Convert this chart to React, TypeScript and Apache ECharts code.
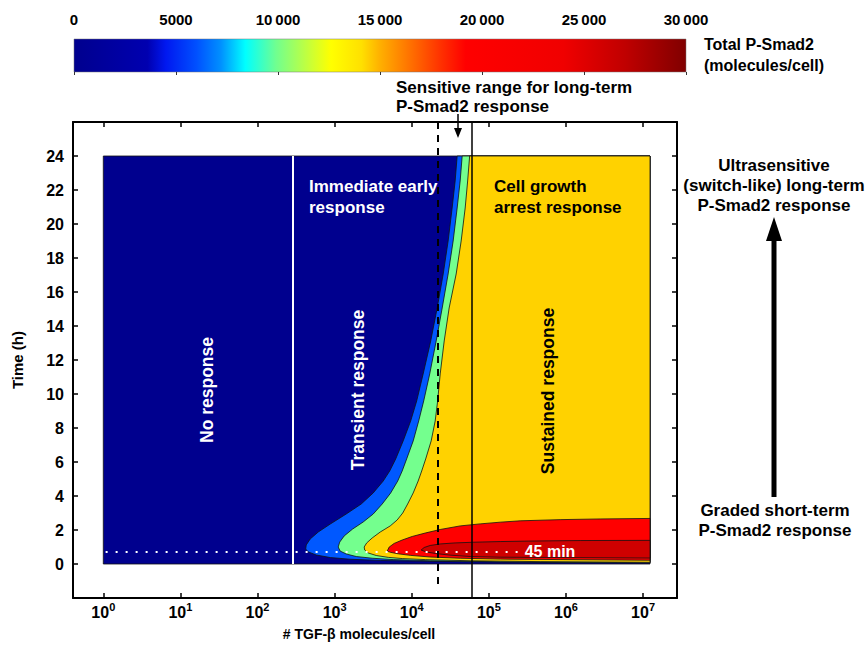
import React, { useEffect, useRef } from "react";
import * as echarts from "echarts";

const FONT = '"Liberation Sans", Arial, Helvetica, sans-serif';

// ---------- data ----------
// x values are log10(# TGF-β molecules/cell); y values are time (h)
const xExponents = [0, 1, 2, 3, 4, 5, 6, 7];
const timeTicks = [0, 2, 4, 6, 8, 10, 12, 14, 16, 18, 20, 22, 24];
const colorbarTicks = [0, 5000, 10000, 15000, 20000, 25000, 30000];
const colorbarRange = [0, 30000];

const noResponseEdgeLog = 2.46; // white line
const sensitiveLowLog = 4.34; // dashed line
const sensitiveHighLog = 4.78; // solid line
const earlyTime = 0.75; // 45 min
const earlyLineEndLog = 5.38;

// contour regions (P-Smad2 above 0 / 5000 / 10000 / 15000 / 20000 / 25000 molecules/cell)
const regionAbove0: number[][] = [[0, 0], [7.09, 0], [7.09, 24], [0, 24]];
const regionAbove5000: number[][] = [
  [4.589, 24], [4.563, 22.53], [4.524, 20.94], [4.472, 19.0], [4.408, 17.06], [4.33, 15.06],
  [4.246, 13.12], [4.148, 11.18], [4.064, 9.59], [3.986, 8.41], [3.889, 7.24], [3.792, 6.18],
  [3.714, 5.47], [3.63, 4.88], [3.5, 4.18], [3.345, 3.53], [3.15, 2.94], [2.943, 2.35],
  [2.787, 1.88], [2.683, 1.47], [2.632, 1.12], [2.625, 0.88], [2.658, 0.71], [2.761, 0.53],
  [2.943, 0.38], [3.202, 0.28], [3.591, 0.21], [4.2, 0.16], [5.406, 0.11], [7.09, 0.06],
  [7.09, 24],
];
const regionAbove10000: number[][] = [
  [4.654, 24], [4.628, 22.53], [4.589, 20.94], [4.537, 19.0], [4.472, 17.06], [4.395, 15.06],
  [4.317, 13.12], [4.233, 11.18], [4.155, 9.59], [4.09, 8.41], [4.019, 7.24], [3.934, 6.18],
  [3.876, 5.47], [3.818, 4.88], [3.727, 4.18], [3.617, 3.53], [3.5, 2.94], [3.37, 2.47],
  [3.234, 2.06], [3.124, 1.65], [3.066, 1.29], [3.046, 1.0], [3.072, 0.76], [3.15, 0.59],
  [3.28, 0.44], [3.487, 0.34], [3.759, 0.26], [4.239, 0.19], [5.147, 0.13], [7.09, 0.08],
  [7.09, 24],
];
const regionAbove15000: number[][] = [
  [4.751, 24], [4.725, 22.53], [4.693, 20.94], [4.641, 19.0], [4.576, 17.06], [4.485, 15.06],
  [4.421, 13.12], [4.369, 11.18], [4.336, 9.59], [4.304, 8.41], [4.252, 7.24], [4.181, 6.18],
  [4.129, 5.47], [4.083, 4.88], [4.019, 4.18], [3.947, 3.53], [3.883, 3.0], [3.811, 2.59],
  [3.721, 2.24], [3.591, 1.88], [3.487, 1.53], [3.416, 1.24], [3.383, 1.0], [3.39, 0.82],
  [3.435, 0.65], [3.539, 0.5], [3.695, 0.39], [3.876, 0.32], [4.174, 0.26], [4.758, 0.19],
  [5.665, 0.14], [7.09, 0.1], [7.09, 24],
];
const regionAbove20000: number[][] = [
  [3.682, 0.76], [3.708, 1.0], [3.772, 1.21], [3.876, 1.41], [4.006, 1.62], [4.174, 1.82],
  [4.369, 2.03], [4.628, 2.24], [4.887, 2.36], [5.147, 2.46], [5.406, 2.54], [5.924, 2.61],
  [6.443, 2.65], [7.09, 2.68], [7.09, 0.22], [5.924, 0.26], [5.147, 0.29], [4.628, 0.34],
  [4.239, 0.41], [3.98, 0.51], [3.824, 0.6], [3.721, 0.69],
];
const regionAbove25000: number[][] = [
  [4.122, 0.82], [4.161, 0.97], [4.239, 1.09], [4.369, 1.18], [4.563, 1.24], [4.797, 1.28],
  [5.147, 1.32], [5.535, 1.35], [6.184, 1.38], [7.09, 1.39], [7.09, 0.35], [5.924, 0.38],
  [5.147, 0.4], [4.758, 0.44], [4.498, 0.52], [4.304, 0.62], [4.187, 0.71],
];

const regions = [
  regionAbove0,
  regionAbove5000,
  regionAbove10000,
  regionAbove15000,
  regionAbove20000,
  regionAbove25000,
];
const regionColors = ["#00008E", "#0058FF", "#74FF8E", "#FFD200", "#FF0000", "#CF0000"];

const colormapStops = [
  [0, "#00008E"], [0.12, "#0000B0"], [0.15, "#0018F0"], [0.2, "#0050FF"],
  [0.24, "#0090FF"], [0.28, "#00FFFF"], [0.33, "#70FF90"], [0.39, "#D0FF30"],
  [0.42, "#FFFF00"], [0.47, "#FFE000"], [0.5, "#FFB000"], [0.55, "#FF7000"],
  [0.6, "#FF3000"], [0.64, "#FF0000"], [0.8, "#F00000"], [0.9, "#C00000"], [1, "#800000"],
];

// ---------- option ----------
const bold = { fontFamily: FONT, fontWeight: "bold" as const, color: "#000" };

function buildOption() {
  const frameLine = { show: true, onZero: false, lineStyle: { color: "#000", width: 2 } };
  const tick = { show: true, inside: true, length: 5, lineStyle: { color: "#000", width: 1.5 } };

  const xLabelFmt = (v: number) => `{b|10}{s|${Math.round(v)}}`;
  const cbFmt = (v: number) =>
    v < 10000 ? String(v) : `${Math.floor(v / 1000)}\u2009000`;

  const txt = (text: string, x: number, y: number, opts: any = {}) => ({
    type: "text",
    x,
    y,
    rotation: opts.rotation || 0,
    z: 100,
    style: {
      text,
      fill: opts.fill || "#000",
      fontFamily: FONT,
      fontWeight: "bold",
      fontSize: opts.fontSize || 17,
      lineHeight: opts.lineHeight || 21,
      align: opts.align || "left",
      verticalAlign: "middle",
    },
  });

  return {
    animation: false,
    backgroundColor: "#fff",
    grid: [
      { left: 73, top: 122, width: 604, height: 476 },
      { left: 74, top: 39, width: 612, height: 33 },
    ],
    xAxis: [
      {
        type: "value",
        gridIndex: 0,
        min: -0.393,
        max: 7.44,
        position: "bottom",
        axisLine: frameLine,
        axisTick: { ...tick, customValues: xExponents },
        splitLine: { show: false },
        axisLabel: {
          customValues: xExponents,
          formatter: xLabelFmt,
          margin: 3,
          rich: {
            b: { ...bold, fontSize: 16, lineHeight: 19, verticalAlign: "bottom" },
            s: { ...bold, fontSize: 11, lineHeight: 19, verticalAlign: "top" },
          },
        },
      },
      {
        type: "value",
        gridIndex: 0,
        min: -0.393,
        max: 7.44,
        position: "top",
        axisLine: frameLine,
        axisTick: { ...tick, customValues: xExponents },
        axisLabel: { show: false },
        splitLine: { show: false },
      },
      {
        type: "value",
        gridIndex: 1,
        min: colorbarRange[0],
        max: colorbarRange[1],
        interval: 5000,
        position: "top",
        z: 10,
        axisLine: { show: false },
        axisTick: { show: true, inside: true, length: 3, lineStyle: { color: "#333", width: 1 } },
        axisLabel: { ...bold, fontSize: 15, margin: 12, formatter: cbFmt, customValues: colorbarTicks },
        splitLine: { show: false },
      },
    ],
    yAxis: [
      {
        type: "value",
        gridIndex: 0,
        min: -2,
        max: 26,
        position: "left",
        axisLine: frameLine,
        axisTick: { ...tick, customValues: timeTicks },
        splitLine: { show: false },
        axisLabel: { ...bold, fontSize: 16, margin: 9, customValues: timeTicks },
        name: "Time (h)",
        nameLocation: "middle",
        nameGap: 48,
        nameRotate: 90,
        nameTextStyle: { ...bold, fontSize: 15 },
      },
      {
        type: "value",
        gridIndex: 0,
        min: -2,
        max: 26,
        position: "right",
        axisLine: frameLine,
        axisTick: { ...tick, customValues: timeTicks },
        axisLabel: { show: false },
        splitLine: { show: false },
      },
      { type: "value", gridIndex: 1, min: 0, max: 1, show: false },
    ],
    series: [
      {
        type: "custom",
        name: "contours",
        xAxisIndex: 0,
        yAxisIndex: 0,
        clip: false,
        data: regions.map((_, i) => [i]),
        renderItem: (params: any, api: any) => {
          const i = api.value(0);
          const pts = regions[i].map((p) => api.coord(p));
          return {
            type: "polygon",
            shape: { points: pts },
            style: {
              fill: regionColors[i],
              stroke: "#111",
              lineWidth: 0.8,
              lineJoin: "round",
            },
          };
        },
        markLine: {
          silent: true,
          symbol: "none",
          label: { show: false },
          animation: false,
          data: [
            [
              { coord: [noResponseEdgeLog, 0], lineStyle: { color: "#fff", width: 2, type: "solid" } },
              { coord: [noResponseEdgeLog, 24] },
            ],
            [
              { coord: [0.03, earlyTime], lineStyle: { color: "#fff", width: 2, type: [2, 8] } },
              { coord: [earlyLineEndLog, earlyTime] },
            ],
            [
              { coord: [sensitiveLowLog, 26], lineStyle: { color: "#000", width: 2, type: [7, 6] } },
              { coord: [sensitiveLowLog, -1.4] },
            ],
            [
              { coord: [sensitiveHighLog, 26], lineStyle: { color: "#000", width: 1.5, type: "solid" } },
              { coord: [sensitiveHighLog, -2] },
            ],
          ],
        },
      },
      {
        type: "custom",
        name: "colorbar",
        xAxisIndex: 2,
        yAxisIndex: 2,
        data: [[colorbarRange[0], colorbarRange[1]]],
        renderItem: (params: any, api: any) => {
          const p0 = api.coord([api.value(0), 1]);
          const p1 = api.coord([api.value(1), 0]);
          return {
            type: "rect",
            shape: { x: p0[0], y: p0[1], width: p1[0] - p0[0], height: p1[1] - p0[1] },
            style: {
              fill: new echarts.graphic.LinearGradient(
                0,
                0,
                1,
                0,
                colormapStops.map(([o, c]) => ({ offset: o as number, color: c as string }))
              ),
              stroke: "#777",
              lineWidth: 0.5,
            },
          };
        },
      },
    ],
    graphic: [
      txt("Total P-Smad2\n(molecules/cell)", 704, 55, { fontSize: 16, lineHeight: 21 }),
      txt("Sensitive range for long-term\nP-Smad2 response", 396, 97, { lineHeight: 19 }),
      {
        type: "line",
        z: 100,
        shape: { x1: 458, y1: 114, x2: 458, y2: 130 },
        style: { stroke: "#000", lineWidth: 1.5 },
      },
      {
        type: "polygon",
        z: 100,
        shape: { points: [[454, 128], [462, 128], [458, 138]] },
        style: { fill: "#000" },
      },
      txt("Immediate early\nresponse", 309, 197, { fill: "#fff" }),
      txt("Cell growth\narrest response", 494, 197),
      txt("No response", 207, 390, { fill: "#fff", rotation: Math.PI / 2, align: "center", fontSize: 17.5 }),
      txt("Transient response", 358, 390, { fill: "#fff", rotation: Math.PI / 2, align: "center", fontSize: 17.5 }),
      txt("Sustained response", 548, 391, { rotation: Math.PI / 2, align: "center", fontSize: 17.5 }),
      txt("45 min", 550, 551, { fill: "#fff", fontSize: 16, align: "center" }),
      txt("Ultrasensitive\n(switch-like) long-term\nP-Smad2 response", 774, 185, {
        align: "center",
        lineHeight: 20,
      }),
      txt("Graded short-term\nP-Smad2 response", 775, 520, { align: "center", lineHeight: 20 }),
      {
        type: "line",
        z: 100,
        shape: { x1: 774, y1: 497, x2: 774, y2: 236 },
        style: { stroke: "#000", lineWidth: 5 },
      },
      {
        type: "polygon",
        z: 100,
        shape: { points: [[766, 241], [782, 241], [774, 217]] },
        style: { fill: "#000" },
      },
      txt("# TGF-\u03b2 molecules/cell", 359, 634, { align: "center", fontSize: 14 }),
    ],
  };
}

export default function App() {
  const ref = useRef<HTMLDivElement>(null);
  useEffect(() => {
    if (!ref.current) return;
    const chart = echarts.init(ref.current, undefined, { renderer: "svg" });
    chart.setOption(buildOption() as any);
    return () => chart.dispose();
  }, []);
  return (
    <div
      ref={ref}
      style={{ position: "fixed", left: 0, top: 0, width: 867, height: 646, background: "#fff" }}
    />
  );
}
